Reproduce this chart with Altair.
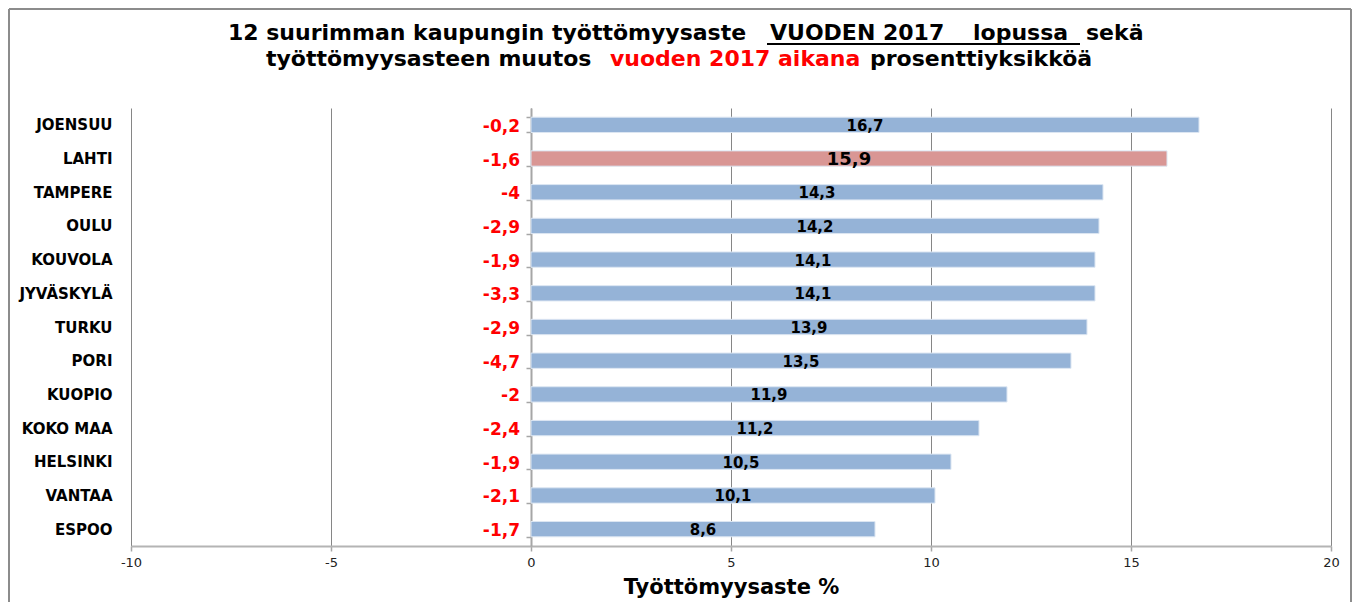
import altair as alt
import pandas as pd

# ---- data ----
kaupungit = ["JOENSUU", "LAHTI", "TAMPERE", "OULU", "KOUVOLA", "JYVÄSKYLÄ", "TURKU",
             "PORI", "KUOPIO", "KOKO MAA", "HELSINKI", "VANTAA", "ESPOO"]
tyottomyysaste = [16.7, 15.9, 14.3, 14.2, 14.1, 14.1, 13.9, 13.5, 11.9, 11.2, 10.5, 10.1, 8.6]
muutos = [-0.2, -1.6, -4, -2.9, -1.9, -3.3, -2.9, -4.7, -2, -2.4, -1.9, -2.1, -1.7]
korostettu = "LAHTI"
x_ticks = [-10, -5, 0, 5, 10, 15, 20]

df = pd.DataFrame({"kaupunki": kaupungit, "aste": tyottomyysaste, "muutos": muutos})
one = pd.DataFrame({"a": [0]})

W, H = 1200, 438
FONT = "DejaVu Sans"
BLUE = "#95B3D7"
PINK = "#D99694"
RED = "#FF0000"

x_scale = alt.Scale(domain=[-10, 20], nice=False, zero=False)
y_scale = alt.Scale(paddingInner=0.546, paddingOuter=0.273)

x_enc = alt.X(
    "aste:Q", scale=x_scale,
    axis=alt.Axis(
        values=x_ticks, title="Työttömyysaste %", titleFont=FONT, titleFontSize=21,
        titleFontWeight="bold", titleColor="#000000", titleBaseline="alphabetic", titleY=47,
        labelFont=FONT, labelFontSize=13, labelColor="#222222", labelPadding=5,
        labelFlush=False, labelOverlap=False,
        labelExpr="'' + datum.value",
        tickSize=5, tickColor="#a6a6a6", tickWidth=1.5,
        domainColor="#b4b4b4", domainWidth=2,
        grid=True, gridColor="#868686", gridWidth=1,
    ),
)

y_enc = alt.Y(
    "kaupunki:N", sort=kaupungit, scale=y_scale,
    axis=alt.Axis(
        title=None, orient="left", offset=-400, domain=True, domainColor="#a6a6a6",
        domainWidth=2, ticks=True, tickBand="extent", tickColor="#a6a6a6", tickSize=5,
        tickWidth=1.5, labelPadding=414, labelFont=FONT, labelFontSize=15,
        labelFontWeight="bold", labelColor="#000000", grid=False,
    ),
)

base = alt.Chart(df)

bars = base.mark_bar(stroke="#dce6f2", strokeWidth=1).encode(
    x=x_enc,
    y=y_enc,
    color=alt.condition(alt.datum.kaupunki == korostettu, alt.value(PINK), alt.value(BLUE)),
)

vals = base.transform_calculate(
    mid="datum.aste / 2",
    lbl="replace(format(datum.aste, '.1f'), '.', ',')",
).mark_text(font=FONT, fontWeight="bold", color="#000000", baseline="middle", dy=1).encode(
    x=alt.X("mid:Q", scale=x_scale),
    y=alt.Y("kaupunki:N", sort=kaupungit, scale=y_scale),
    text="lbl:N",
    size=alt.condition(alt.datum.kaupunki == korostettu, alt.value(18), alt.value(15)),
)

reds = base.transform_calculate(
    lbl="(datum.muutos < 0 ? '-' : '') + replace(format(abs(datum.muutos), '.1~f'), '.', ',')",
).mark_text(font=FONT, fontWeight="bold", fontSize=17, color=RED, align="right",
            baseline="middle", dx=-11, dy=2).encode(
    x=alt.X(datum=0, scale=x_scale),
    y=alt.Y("kaupunki:N", sort=kaupungit, scale=y_scale),
    text="lbl:N",
)


def seg(text, px, py, color="#000000"):
    return alt.Chart(one).mark_text(
        font=FONT, fontSize=22, fontWeight="bold", color=color, align="left",
        baseline="alphabetic",
    ).encode(x=alt.value(px), y=alt.value(py), text=alt.value(text))


titles = [
    seg("12 suurimman kaupungin työttömyysaste", 97, -68),
    seg("VUODEN 2017", 639, -68),
    seg("lopussa", 842, -68),
    seg("sekä", 955, -68),
    seg("työttömyysasteen muutos", 135, -42),
    seg("vuoden 2017 aikana", 479, -42, RED),
    seg("prosenttiyksikköä", 739, -42),
]

underline = alt.Chart(one).mark_rule(color="#000000", strokeWidth=2).encode(
    x=alt.value(636), x2=alt.value(949), y=alt.value(-64))

frame_col = "#8c8c8c"
frame_left = alt.Chart(one).mark_rule(color=frame_col, strokeWidth=2).encode(
    x=alt.value(-122), y=alt.value(-99), y2=alt.value(H + 60))
frame_top = alt.Chart(one).mark_rule(color=frame_col, strokeWidth=2).encode(
    x=alt.value(-122), x2=alt.value(1220), y=alt.value(-99))
frame_right = alt.Chart(one).mark_rule(color=frame_col, strokeWidth=2).encode(
    x=alt.value(1220), y=alt.value(-99), y2=alt.value(H + 60))

chart = alt.layer(
    bars, vals, reds, *titles, underline, frame_left, frame_top, frame_right
).properties(
    width=W, height=H,
    autosize=alt.AutoSizeParams(type="none"),
    padding={"left": 123, "top": 100, "right": 21, "bottom": 56},
    background="white",
).configure_view(stroke=None)

chart.save("out.html", embed_options={"renderer": "svg", "actions": False})
